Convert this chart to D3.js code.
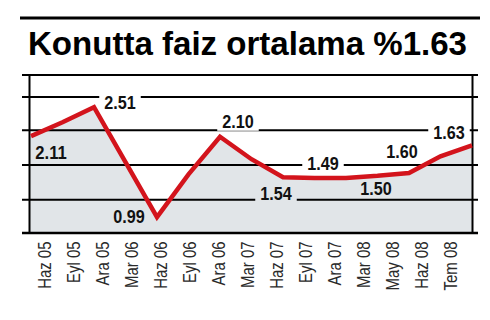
<!DOCTYPE html>
<html>
<head>
<meta charset="utf-8">
<script src="https://cdn.jsdelivr.net/npm/d3@7"></script>
<style>
  html, body { margin: 0; padding: 0; background: #fff; }
  svg { display: block; }
</style>
</head>
<body>
<script>
// ---- data ----
const categories = ["Haz 05","Eyl 05","Ara 05","Mar 06","Haz 06","Eyl 06","Ara 06","Mar 07","Haz 07","Eyl 07","Ara 07","Mar 08","May 08","Haz 08","Tem 08"];
const rates = [2.11, 2.30, 2.51, 1.75, 0.99, 1.58, 2.10, 1.79, 1.54, 1.53, 1.53, 1.56, 1.60, 1.83, 1.98];
const annotIndex = [0, 2, 4, 6, 8, 9, 10, 12, 14];
const annotText = ["2.11", "2.51", "0.99", "2.10", "1.54", "1.49", "1.50", "1.60", "1.63"];
const gridValues = [1.23, 1.71, 2.19, 2.65];
const titleText = "Konutta faiz ortalama %1.63";

// ---- layout ----
const W = 490, H = 320;
const plotLeft = 29.5, plotRight = 472.5, plotTop = 75, plotBottom = 233;
const tickLeft = 22, tickRight = 478;
const annotOffsets = [[20,23],[26,2],[-28,6],[18,-9],[-7,23],[8.5,-8],[30,17],[-7,-15],[-23,-6.5]];

const svg = d3.select("body").append("svg").attr("width", W).attr("height", H);

const xLine = d3.scalePoint().domain(categories).range([31, 472]);
const xLabel = d3.scalePoint().domain(categories).range([44.5, 450]);
const y = d3.scaleLinear().domain([0.77, 2.65]).range([plotBottom, 97]);

// title rules and title
svg.append("line").attr("x1", 20).attr("x2", 480).attr("y1", 18).attr("y2", 18)
  .attr("stroke", "#000").attr("stroke-width", 3);
svg.append("text").attr("x", 247.5).attr("y", 55).attr("text-anchor", "middle")
  .attr("font-family", "'Liberation Sans', Arial, sans-serif").attr("font-weight", "bold")
  .attr("font-size", 33).attr("fill", "#000")
  .attr("textLength", 439).attr("lengthAdjust", "spacingAndGlyphs")
  .text(titleText);

// area
const pts = categories.map((c, i) => ({c, v: rates[i]}));
svg.append("path").datum(pts)
  .attr("d", d3.area().x(d => xLine(d.c)).y0(plotBottom).y1(d => y(d.v)))
  .attr("fill", "#e1e5e8");
svg.append("rect").attr("x", plotLeft).attr("y", y(rates[0]))
  .attr("width", xLine(categories[0]) - plotLeft).attr("height", plotBottom - y(rates[0]))
  .attr("fill", "#e1e5e8");

// mask for gridlines
const defs = svg.append("defs");
const mask = defs.append("mask").attr("id", "gmask").attr("maskUnits", "userSpaceOnUse")
  .attr("x", 0).attr("y", 0).attr("width", W).attr("height", H);
mask.append("rect").attr("x", 0).attr("y", 0).attr("width", W).attr("height", H).attr("fill", "#fff");

const gridG = svg.append("g").attr("mask", "url(#gmask)");
gridG.selectAll("line").data(gridValues).join("line")
  .attr("x1", tickLeft).attr("x2", tickRight)
  .attr("y1", d => y(d)).attr("y2", d => y(d))
  .attr("stroke", "#000").attr("stroke-width", 2);

// frame
svg.append("line").attr("x1", tickLeft).attr("x2", tickRight).attr("y1", plotTop).attr("y2", plotTop)
  .attr("stroke", "#000").attr("stroke-width", 2);
svg.append("line").attr("x1", tickLeft).attr("x2", tickRight).attr("y1", plotBottom).attr("y2", plotBottom)
  .attr("stroke", "#000").attr("stroke-width", 2.5);
svg.append("line").attr("x1", plotLeft).attr("x2", plotLeft).attr("y1", plotTop).attr("y2", plotBottom)
  .attr("stroke", "#000").attr("stroke-width", 2);
svg.append("line").attr("x1", plotRight).attr("x2", plotRight).attr("y1", plotTop).attr("y2", plotBottom)
  .attr("stroke", "#000").attr("stroke-width", 2);

// line
svg.append("path").datum(pts)
  .attr("d", d3.line().x(d => xLine(d.c)).y(d => y(d.v)))
  .attr("fill", "none").attr("stroke", "#d3141c").attr("stroke-width", 4.5)
  .attr("stroke-linejoin", "miter");

// annotations
const ann = svg.append("g").selectAll("text").data(annotIndex).join("text")
  .attr("x", (d, i) => xLine(categories[d]) + annotOffsets[i][0])
  .attr("y", (d, i) => y(rates[d]) + annotOffsets[i][1])
  .attr("text-anchor", "middle")
  .attr("font-family", "'Liberation Sans', Arial, sans-serif").attr("font-weight", "bold")
  .attr("font-size", 18).attr("fill", "#111")
  .attr("textLength", 31.5).attr("lengthAdjust", "spacingAndGlyphs")
  .text((d, i) => annotText[i]);

ann.each(function(d, i) {
  const b = this.getBBox();
  const baseline = y(rates[d]) + annotOffsets[i][1];
  mask.append("rect")
    .attr("x", b.x - 5).attr("width", b.width + 10)
    .attr("y", baseline - 15).attr("height", 18)
    .attr("fill", "#000");
});

// x-axis labels (condensed look)
svg.append("g").selectAll("text").data(categories).join("text")
  .attr("transform", d => `translate(${xLabel(d) + 6.5},241.5) rotate(-90)`)
  .attr("text-anchor", "end")
  .attr("font-family", "'Liberation Sans', Arial, sans-serif")
  .attr("font-size", 18).attr("fill", "#2a2a2a")
  .text(d => d)
  .each(function() {
    const len = this.getComputedTextLength();
    d3.select(this).attr("textLength", len * 0.83).attr("lengthAdjust", "spacingAndGlyphs");
  });
</script>
</body>
</html>
